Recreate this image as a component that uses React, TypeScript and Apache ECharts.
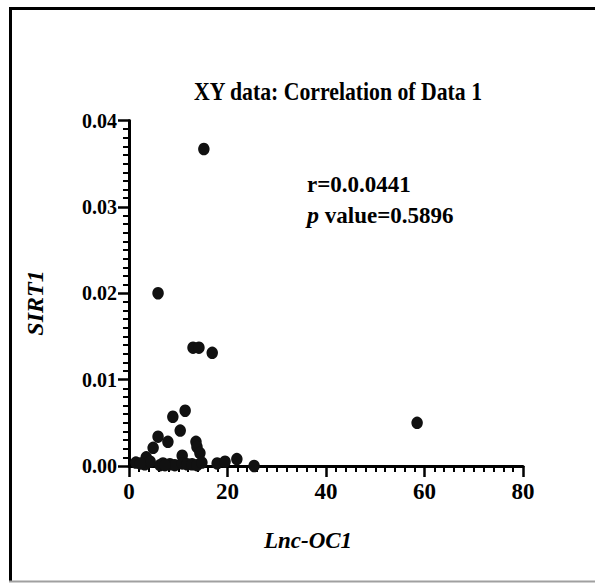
import React, { useEffect, useRef } from "react";
import * as echarts from "echarts";

const lncOC1 = [15.2, 5.9, 13.0, 14.2, 16.9, 58.5, 11.4, 8.9, 10.4, 5.9, 7.9, 4.9, 13.6, 13.8, 14.4, 3.5, 10.8, 1.4, 3.2, 4.3, 6.3, 6.9, 8.3, 9.3, 10.8, 11.8, 12.8, 13.8, 14.8, 17.9, 19.5, 21.9, 25.4, 2.3, 7.3];
const sirt1 = [0.0367, 0.02, 0.0137, 0.0137, 0.0131, 0.005, 0.0064, 0.0057, 0.0041, 0.0034, 0.0028, 0.0021, 0.0028, 0.0022, 0.0015, 0.001, 0.0012, 0.0004, 0.0002, 0.0005, 0.0001, 0.0003, 0.0002, 0.0001, 0.0003, 0.0002, 0.0002, 0.0001, 0.0004, 0.0003, 0.0005, 0.0008, 0.0, 0.0003, 0.0001];
const xTicks = [0, 20, 40, 60, 80];
const yTicks = [0, 0.01, 0.02, 0.03, 0.04];
const minorPerMajor = 10;
const titleText = "XY data: Correlation of Data 1";
const rText = "r=0.0.0441";
const pLetter = "p";
const pText = " value=0.5896";
const xName = "Lnc-OC1";
const yName = "SIRT1";

const FONT = "Liberation Serif";

export default function App() {
  const ref = useRef<HTMLDivElement>(null);
  useEffect(() => {
    if (!ref.current) return;
    const chart = echarts.init(ref.current, undefined, { renderer: "svg" });
    const data = lncOC1.map((x, i) => [x, sirt1[i]]);
    const xMin = xTicks[0];
    const xMax = xTicks[xTicks.length - 1];
    const xInt = xTicks[1] - xTicks[0];
    const yMin = yTicks[0];
    const yMax = yTicks[yTicks.length - 1];
    const yInt = yTicks[1] - yTicks[0];
    chart.setOption({
      animation: false,
      backgroundColor: "#ffffff",
      grid: { left: 129, right: 72, top: 120.5, bottom: 117, containLabel: false },
      xAxis: {
        type: "value",
        min: xMin,
        max: xMax,
        interval: xInt,
        axisLine: { show: true, onZero: false, lineStyle: { color: "#000", width: 3 } },
        axisTick: { show: true, inside: false, length: 11, lineStyle: { color: "#000", width: 2.5 } },
        minorTick: { show: true, splitNumber: minorPerMajor, length: 6, lineStyle: { color: "#000", width: 2 } },
        splitLine: { show: false },
        axisLabel: { show: true, color: "#000", fontFamily: FONT, fontWeight: "bold", fontSize: 23, margin: 14 },
      },
      yAxis: {
        type: "value",
        min: yMin,
        max: yMax,
        interval: yInt,
        axisLine: { show: true, onZero: false, lineStyle: { color: "#000", width: 3 } },
        axisTick: { show: true, inside: false, length: 11, lineStyle: { color: "#000", width: 2.5 } },
        minorTick: { show: true, splitNumber: minorPerMajor, length: 6, lineStyle: { color: "#000", width: 2 } },
        splitLine: { show: false },
        axisLabel: {
          show: true,
          color: "#000",
          fontFamily: FONT,
          fontWeight: "bold",
          fontSize: 20,
          margin: 12,
          formatter: (v: number) => v.toFixed(2),
        },
      },
      series: [
        {
          type: "scatter",
          data,
          symbol: "circle",
          symbolSize: [11.5, 12.5],
          clip: false,
          z: 5,
          itemStyle: { color: "#111", opacity: 1 },
        },
      ],
      graphic: [
        { type: "line", shape: { x1: 9, y1: 8.5, x2: 595, y2: 8.5 }, style: { stroke: "#000", lineWidth: 3 } },
        { type: "line", shape: { x1: 10.5, y1: 7, x2: 10.5, y2: 581 }, style: { stroke: "#000", lineWidth: 3 } },
        { type: "line", shape: { x1: 9, y1: 581.5, x2: 595, y2: 581.5 }, style: { stroke: "#a0a0a0", lineWidth: 2 } },
        {
          type: "text",
          x: 338,
          y: 91.5,
          scaleX: 0.87,
          style: {
            text: titleText,
            fontFamily: FONT,
            fontWeight: "bold",
            fontSize: 25,
            fill: "#000",
            align: "center",
            verticalAlign: "middle",
          },
        },
        {
          type: "text",
          x: 307,
          y: 184,
          style: {
            text: rText,
            fontFamily: FONT,
            fontWeight: "bold",
            fontSize: 23,
            fill: "#000",
            align: "left",
            verticalAlign: "middle",
          },
        },
        {
          type: "text",
          x: 307,
          y: 215,
          style: {
            text: "{i|" + pLetter + "}{n|" + pText + "}",
            fill: "#000",
            align: "left",
            verticalAlign: "middle",
            rich: {
              i: { fontFamily: FONT, fontWeight: "bold", fontStyle: "italic", fontSize: 24, fill: "#000" },
              n: { fontFamily: FONT, fontWeight: "bold", fontSize: 23, fill: "#000" },
            },
          },
        },
        {
          type: "text",
          x: 308,
          y: 540,
          style: {
            text: xName,
            fontFamily: FONT,
            fontWeight: "bold",
            fontStyle: "italic",
            fontSize: 23,
            fill: "#000",
            align: "center",
            verticalAlign: "middle",
          },
        },
        {
          type: "text",
          x: 35,
          y: 303,
          rotation: Math.PI / 2,
          style: {
            text: yName,
            fontFamily: FONT,
            fontWeight: "bold",
            fontStyle: "italic",
            fontSize: 24,
            fill: "#000",
            align: "center",
            verticalAlign: "middle",
          },
        },
      ],
    });
    return () => chart.dispose();
  }, []);
  return (
    <div
      ref={ref}
      style={{ position: "fixed", left: 0, top: 0, width: 595, height: 583 }}
    />
  );
}
